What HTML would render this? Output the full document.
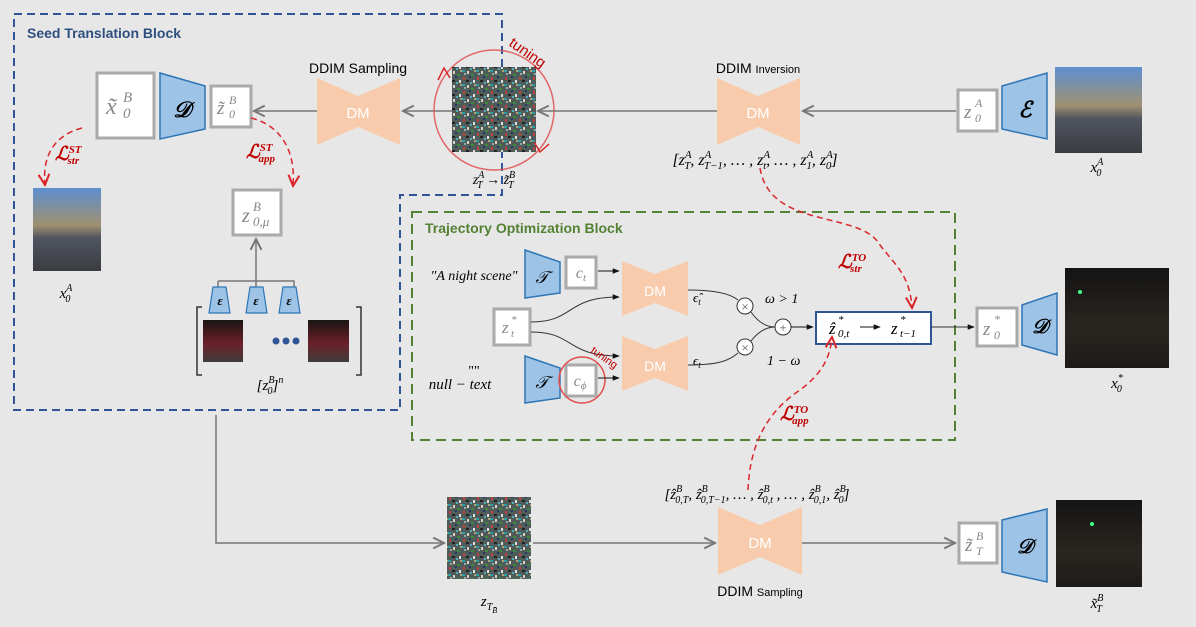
<!DOCTYPE html>
<html><head><meta charset="utf-8"><style>
html,body{margin:0;padding:0;background:#e7e7e7}
svg{display:block}
text{font-family:"Liberation Serif",serif}
.s{font-family:"Liberation Sans",sans-serif}
.m{font-style:italic}
</style></head><body>
<svg width="1196" height="627" viewBox="0 0 1196 627" xmlns="http://www.w3.org/2000/svg">
<defs>
<marker id="ag" viewBox="0 0 10 10" refX="9" refY="5" markerWidth="9" markerHeight="9" orient="auto"><path d="M1 1L9 5L1 9" fill="none" stroke="#777" stroke-width="1.5"/></marker>
<marker id="ak" viewBox="0 0 10 10" refX="9" refY="5" markerWidth="7" markerHeight="7" orient="auto"><path d="M0 1L10 5L0 9Z" fill="#111"/></marker>
<marker id="ar" viewBox="0 0 10 10" refX="9" refY="5" markerWidth="9" markerHeight="9" orient="auto"><path d="M1 1L9 5L1 9" fill="none" stroke="#d9262b" stroke-width="1.5"/></marker>
<pattern id="noise" width="14" height="14" patternUnits="userSpaceOnUse">
<rect width="14" height="14" fill="#4f5c5a"/>
<rect x="0" y="0" width="3" height="2" fill="#2ba0a8"/><rect x="5" y="1" width="2" height="3" fill="#d8d0c0"/>
<rect x="9" y="4" width="3" height="2" fill="#3a8a3a"/><rect x="1" y="7" width="2" height="3" fill="#c04040"/>
<rect x="4" y="10" width="3" height="2" fill="#222"/><rect x="11" y="10" width="2" height="3" fill="#e0e0e0"/>
<rect x="7" y="6" width="2" height="2" fill="#1f3a6a"/><rect x="2" y="3" width="2" height="2" fill="#9aa"/>
<rect x="12" y="0" width="2" height="2" fill="#b0a070"/><rect x="8" y="12" width="2" height="2" fill="#5ab"/>
</pattern>
<linearGradient id="day" x1="0" y1="0" x2="0" y2="1"><stop offset="0" stop-color="#5d8fd0"/><stop offset="0.45" stop-color="#a09070"/><stop offset="0.6" stop-color="#505560"/><stop offset="1" stop-color="#3a3c40"/></linearGradient>
<linearGradient id="night" x1="0" y1="0" x2="0" y2="1"><stop offset="0" stop-color="#141414"/><stop offset="0.6" stop-color="#2a2520"/><stop offset="1" stop-color="#1d1b19"/></linearGradient>
<linearGradient id="nred" x1="0" y1="0" x2="0" y2="1"><stop offset="0" stop-color="#1a1515"/><stop offset="0.55" stop-color="#6a2028"/><stop offset="1" stop-color="#403c3c"/></linearGradient>
</defs>

<path d="M14 14H502V195H400V410H14Z" fill="none" stroke="#2f5597" stroke-width="2" stroke-dasharray="8 5"/>
<text x="27" y="38" class="s" font-size="14" font-weight="bold" fill="#2f4f7f">Seed Translation Block</text>

<rect x="412" y="212" width="543" height="228" fill="none" stroke="#548235" stroke-width="2" stroke-dasharray="10 6"/>
<text x="425" y="233" class="s" font-size="14" font-weight="bold" fill="#548235">Trajectory Optimization Block</text>

<!-- top row -->
<rect x="97" y="73" width="57" height="65" fill="#fff" stroke="#aaa" stroke-width="3"/>
<g fill="#888" class="m"><text x="106" y="114" font-size="24" class="m">x̃</text><text x="123" y="102" font-size="15" class="m">B</text><text x="123" y="118" font-size="15" class="m">0</text></g>
<path d="M160 73L205 86V129L160 139Z" fill="#9dc3e6" stroke="#2e75b6" stroke-width="1.5"/>
<text x="182" y="117" font-size="22" text-anchor="middle" font-weight="bold" class="m">𝒟</text>
<rect x="211" y="86" width="40" height="41" fill="#fff" stroke="#aaa" stroke-width="3"/>
<g fill="#888"><text x="217" y="114" font-size="19" class="m" fill="#888">z̃</text><text x="229" y="104" font-size="12" class="m" fill="#888">B</text><text x="229" y="118" font-size="12" class="m" fill="#888">0</text></g>
<line x1="317" y1="111" x2="254" y2="111" stroke="#777" stroke-width="1.5" marker-end="url(#ag)"/>
<path d="M317 78L358 96L400 78V145L358 127L317 145Z" fill="#f8cbad"/>
<text x="358" y="118" class="s" font-size="15" fill="#fff" text-anchor="middle">DM</text>
<text x="358" y="73" class="s" font-size="14" text-anchor="middle">DDIM Sampling</text>
<line x1="452" y1="111" x2="403" y2="111" stroke="#777" stroke-width="1.5" marker-end="url(#ag)"/>
<rect x="452" y="67" width="84" height="85" fill="url(#noise)"/>
<circle cx="494" cy="110" r="60" fill="none" stroke="#e05050" stroke-width="1.5" opacity="0.85"/>
<path d="M438 80L444 68L450 78" fill="none" stroke="#d9262b" stroke-width="1.5"/>
<path d="M534 142L540 152L549 144" fill="none" stroke="#d9262b" stroke-width="1.5"/>
<text x="508" y="45" class="s" font-size="15" fill="#c00000" transform="rotate(35 508 45)">tuning</text>
<text x="494" y="184" font-size="14" text-anchor="middle" class="m">z<tspan font-size="10" dy="-6">A</tspan><tspan font-size="10" dx="-7" dy="10">T</tspan><tspan dy="-4"> → z̃</tspan><tspan font-size="10" dy="-6">B</tspan><tspan font-size="10" dx="-7" dy="10">T</tspan></text>

<line x1="717" y1="111" x2="538" y2="111" stroke="#777" stroke-width="1.5" marker-end="url(#ag)"/>
<path d="M717 78L758 96L800 78V145L758 127L717 145Z" fill="#f8cbad"/>
<text x="758" y="118" class="s" font-size="15" fill="#fff" text-anchor="middle">DM</text>
<text x="758" y="73" class="s" font-size="14" text-anchor="middle">DDIM <tspan font-size="11">Inversion</tspan></text>
<line x1="956" y1="111" x2="803" y2="111" stroke="#777" stroke-width="1.5" marker-end="url(#ag)"/>
<rect x="958" y="90" width="39" height="41" fill="#fff" stroke="#aaa" stroke-width="3"/>
<g fill="#888"><text x="964" y="118" font-size="19" class="m" fill="#888">z</text><text x="975" y="107" font-size="12" class="m" fill="#888">A</text><text x="975" y="122" font-size="12" class="m" fill="#888">0</text></g>
<path d="M1002 86L1047 73V139L1002 129Z" fill="#9dc3e6" stroke="#2e75b6" stroke-width="1.5"/>
<text x="1025" y="117" font-size="22" text-anchor="middle" font-weight="bold" class="m">ℰ</text>
<rect x="1055" y="67" width="87" height="86" fill="url(#day)"/>
<text x="1097" y="172" font-size="15" text-anchor="middle" class="m">x<tspan font-size="10" dy="-7">A</tspan><tspan font-size="10" dx="-7" dy="11">0</tspan></text>
<text x="755" y="165" font-size="16" text-anchor="middle" class="m">[z<tspan font-size="11" dy="-7">A</tspan><tspan font-size="11" dx="-7" dy="11">T</tspan><tspan dy="-4">, z</tspan><tspan font-size="11" dy="-7">A</tspan><tspan font-size="11" dx="-7" dy="11">T−1</tspan><tspan dy="-4">, … , z</tspan><tspan font-size="11" dy="-7">A</tspan><tspan font-size="11" dx="-7" dy="11">t</tspan><tspan dy="-4">, … , z</tspan><tspan font-size="11" dy="-7">A</tspan><tspan font-size="11" dx="-7" dy="11">1</tspan><tspan dy="-4">, z</tspan><tspan font-size="11" dy="-7">A</tspan><tspan font-size="11" dx="-7" dy="11">0</tspan><tspan dy="-4">]</tspan></text>

<!-- seed left -->
<path d="M82 128C55 135 42 155 45 185" fill="none" stroke="#d9262b" stroke-width="1.5" stroke-dasharray="6 4" marker-end="url(#ar)"/>
<text x="55" y="160" font-size="19" fill="#c00000" font-weight="bold" class="m">ℒ<tspan font-size="11" dy="-7">ST</tspan><tspan font-size="11" dx="-13" dy="11">str</tspan></text>
<path d="M251 118C280 125 296 150 293 186" fill="none" stroke="#d9262b" stroke-width="1.5" stroke-dasharray="6 4" marker-end="url(#ar)"/>
<text x="246" y="158" font-size="19" fill="#c00000" font-weight="bold" class="m">ℒ<tspan font-size="11" dy="-7">ST</tspan><tspan font-size="11" dx="-13" dy="11">app</tspan></text>
<rect x="33" y="188" width="68" height="83" fill="url(#day)"/>
<text x="66" y="298" font-size="15" text-anchor="middle" class="m">x<tspan font-size="10" dy="-7">A</tspan><tspan font-size="10" dx="-7" dy="11">0</tspan></text>
<rect x="233" y="190" width="48" height="45" fill="#fff" stroke="#aaa" stroke-width="3"/>
<text x="242" y="222" font-size="20" class="m" fill="#888">z</text><text x="253" y="211" font-size="13" class="m" fill="#888">B</text><text x="253" y="226" font-size="13" class="m" fill="#888">0,μ</text>
<line x1="256" y1="281" x2="256" y2="239" stroke="#777" stroke-width="1.5" marker-end="url(#ag)"/>
<path d="M218 281H294V287M218 281V287M256 281V287" fill="none" stroke="#777" stroke-width="1.5"/>
<g fill="#9dc3e6" stroke="#2e75b6" stroke-width="1.2">
<path d="M213 287H226L230 313H209Z"/><path d="M250 287H263L267 313H246Z"/><path d="M283 287H296L300 313H279Z"/></g>
<g font-size="13" text-anchor="middle" class="m" font-weight="bold"><text x="220" y="305">ε</text><text x="256" y="305">ε</text><text x="289" y="305">ε</text></g>
<path d="M202 307H197V375H202M356 307H361V375H356" fill="none" stroke="#333" stroke-width="1.5"/>
<rect x="203" y="320" width="40" height="42" fill="url(#nred)"/>
<rect x="308" y="320" width="41" height="42" fill="url(#nred)"/>
<g fill="#2f5597"><circle cx="286" cy="341" r="3.5"/><circle cx="296" cy="341" r="3.5"/><circle cx="276" cy="341" r="3.5"/></g>
<text x="270" y="390" font-size="15" text-anchor="middle" class="m">[z<tspan font-size="10" dy="-7">B</tspan><tspan font-size="10" dx="-7" dy="11">0</tspan><tspan dy="-4">]</tspan><tspan font-size="10" dy="-7">n</tspan></text>

<!-- TO block -->
<text x="474" y="280" font-size="14" text-anchor="middle" class="m">"A night scene"</text>
<path d="M525 250L560 262V293L525 298Z" fill="#9dc3e6" stroke="#2e75b6" stroke-width="1.5"/>
<text x="542" y="283" font-size="17" text-anchor="middle" class="m">𝒯</text>
<rect x="566" y="257" width="30" height="31" fill="#fff" stroke="#aaa" stroke-width="3"/>
<text x="581" y="278" font-size="16" text-anchor="middle" fill="#888" class="m">c<tspan font-size="11" dy="3">t</tspan></text>
<line x1="598" y1="271" x2="619" y2="271" stroke="#111" stroke-width="1" marker-end="url(#ak)"/>
<path d="M622 261L655 274L688 261V316L655 303L622 316Z" fill="#f8cbad"/>
<text x="655" y="296" class="s" font-size="14" fill="#fff" text-anchor="middle">DM</text>
<rect x="494" y="309" width="36" height="36" fill="#fff" stroke="#aaa" stroke-width="3"/>
<text x="502" y="333" font-size="17" class="m" fill="#888">z</text><text x="511" y="323" font-size="11" class="m" fill="#888">*</text><text x="511" y="337" font-size="11" class="m" fill="#888">t</text>
<path d="M531 322C575 322 565 297 619 297" fill="none" stroke="#333" stroke-width="1" marker-end="url(#ak)"/>
<path d="M531 332C575 332 565 356 619 356" fill="none" stroke="#333" stroke-width="1" marker-end="url(#ak)"/>
<text x="474" y="375" font-size="14" text-anchor="middle">""</text>
<text x="460" y="389" font-size="15" text-anchor="middle" class="m">null − text</text>
<path d="M525 356L560 368V398L525 403Z" fill="#9dc3e6" stroke="#2e75b6" stroke-width="1.5"/>
<text x="542" y="388" font-size="17" text-anchor="middle" class="m">𝒯</text>
<rect x="566" y="365" width="30" height="31" fill="#fff" stroke="#aaa" stroke-width="3"/>
<text x="580" y="386" font-size="16" text-anchor="middle" fill="#888" class="m">c<tspan font-size="11" dy="3">ϕ</tspan></text>
<circle cx="582" cy="380" r="23" fill="none" stroke="#e05050" stroke-width="1.5"/>
<text x="590" y="352" class="s" font-size="11" fill="#c00000" transform="rotate(35 590 352)">tuning</text>
<line x1="598" y1="378" x2="619" y2="378" stroke="#111" stroke-width="1" marker-end="url(#ak)"/>
<path d="M622 336L655 349L688 336V391L655 378L622 391Z" fill="#f8cbad"/>
<text x="655" y="371" class="s" font-size="14" fill="#fff" text-anchor="middle">DM</text>
<text x="693" y="302" font-size="13" class="m">ϵ̂<tspan font-size="9" dy="3">t</tspan></text>
<text x="693" y="365" font-size="13" class="m">ϵ<tspan font-size="9" dy="3">t</tspan></text>
<path d="M688 290C720 290 732 295 738 300M751 312C758 322 766 327 775 327M688 365C720 365 730 360 738 353M751 341C758 332 766 327 775 327" fill="none" stroke="#333" stroke-width="1"/>
<g fill="#fff" stroke="#333" stroke-width="1"><circle cx="745" cy="306" r="8"/><circle cx="745" cy="347" r="8"/><circle cx="783" cy="327" r="8"/></g>
<g font-size="13" text-anchor="middle" fill="#555"><text x="745" y="311">×</text><text x="745" y="352">×</text><text x="783" y="332">+</text></g>
<text x="765" y="303" font-size="14" class="m">ω &gt; 1</text>
<text x="767" y="365" font-size="14" class="m">1 − ω</text>
<line x1="791" y1="327" x2="813" y2="327" stroke="#111" stroke-width="1" marker-end="url(#ak)"/>
<rect x="816" y="312" width="115" height="32" fill="#fff" stroke="#2f5597" stroke-width="2"/>
<text x="829" y="334" font-size="17" class="m">ẑ</text><text x="838" y="323" font-size="11" class="m">*</text><text x="838" y="337" font-size="11" class="m">0,t</text>
<line x1="860" y1="327" x2="880" y2="327" stroke="#111" stroke-width="1" marker-end="url(#ak)"/>
<text x="891" y="334" font-size="17" class="m">z</text><text x="900" y="323" font-size="11" class="m">*</text><text x="900" y="337" font-size="11" class="m">t−1</text>
<line x1="931" y1="327" x2="974" y2="327" stroke="#333" stroke-width="1" marker-end="url(#ak)"/>
<rect x="977" y="308" width="40" height="38" fill="#fff" stroke="#aaa" stroke-width="3"/>
<text x="983" y="335" font-size="19" class="m" fill="#888">z</text><text x="994" y="323" font-size="12" class="m" fill="#888">*</text><text x="994" y="339" font-size="12" class="m" fill="#888">0</text>
<path d="M1022 305L1057 293V355L1022 345Z" fill="#9dc3e6" stroke="#2e75b6" stroke-width="1.5"/>
<text x="1040" y="333" font-size="20" text-anchor="middle" font-weight="bold" class="m">𝒟</text>
<rect x="1065" y="268" width="104" height="100" fill="url(#night)"/>
<circle cx="1080" cy="292" r="2" fill="#4f8"/>
<text x="1117" y="388" font-size="15" text-anchor="middle" class="m">x<tspan font-size="10" dy="-7">*</tspan><tspan font-size="10" dx="-6" dy="11">0</tspan></text>

<path d="M760 168C770 230 860 210 880 245C895 265 910 275 912 308" fill="none" stroke="#d9262b" stroke-width="1.5" stroke-dasharray="6 4" marker-end="url(#ar)"/>
<text x="838" y="268" font-size="19" fill="#c00000" font-weight="bold" class="m">ℒ<tspan font-size="11" dy="-7">TO</tspan><tspan font-size="11" dx="-16" dy="11">str</tspan></text>
<path d="M748 490C750 440 770 410 800 390C820 375 830 360 832 337" fill="none" stroke="#d9262b" stroke-width="1.5" stroke-dasharray="6 4" marker-end="url(#ar)"/>
<text x="780" y="420" font-size="19" fill="#c00000" font-weight="bold" class="m">ℒ<tspan font-size="11" dy="-7">TO</tspan><tspan font-size="11" dx="-16" dy="11">app</tspan></text>

<!-- bottom -->
<path d="M216 415V543H444" fill="none" stroke="#777" stroke-width="1.5" marker-end="url(#ag)"/>
<rect x="447" y="497" width="84" height="82" fill="url(#noise)"/>
<text x="489" y="606" font-size="15" text-anchor="middle" class="m">z<tspan font-size="10" dy="4">T</tspan><tspan font-size="8" dy="3">B̄</tspan></text>
<line x1="533" y1="543" x2="715" y2="543" stroke="#777" stroke-width="1.5" marker-end="url(#ag)"/>
<path d="M718 507L760 525L802 507V575L760 557L718 575Z" fill="#f8cbad"/>
<text x="760" y="548" class="s" font-size="15" fill="#fff" text-anchor="middle">DM</text>
<text x="760" y="596" class="s" font-size="14" text-anchor="middle">DDIM <tspan font-size="11">Sampling</tspan></text>
<text x="757" y="499" font-size="15" text-anchor="middle" class="m">[ẑ<tspan font-size="10" dy="-7">B</tspan><tspan font-size="10" dx="-7" dy="11">0,T</tspan><tspan dy="-4">, ẑ</tspan><tspan font-size="10" dy="-7">B</tspan><tspan font-size="10" dx="-7" dy="11">0,T−1</tspan><tspan dy="-4">, … , ẑ</tspan><tspan font-size="10" dy="-7">B</tspan><tspan font-size="10" dx="-7" dy="11">0,t</tspan><tspan dy="-4"> , … , ẑ</tspan><tspan font-size="10" dy="-7">B</tspan><tspan font-size="10" dx="-7" dy="11">0,1</tspan><tspan dy="-4">, ẑ</tspan><tspan font-size="10" dy="-7">B</tspan><tspan font-size="10" dx="-7" dy="11">0</tspan><tspan dy="-4">]</tspan></text>
<line x1="802" y1="543" x2="955" y2="543" stroke="#777" stroke-width="1.5" marker-end="url(#ag)"/>
<rect x="959" y="523" width="38" height="40" fill="#fff" stroke="#aaa" stroke-width="3"/>
<text x="965" y="551" font-size="19" class="m" fill="#888">z̃</text><text x="976" y="540" font-size="12" class="m" fill="#888">B</text><text x="976" y="555" font-size="12" class="m" fill="#888">T</text>
<path d="M1002 520L1047 509V582L1002 572Z" fill="#9dc3e6" stroke="#2e75b6" stroke-width="1.5"/>
<text x="1025" y="553" font-size="20" text-anchor="middle" font-weight="bold" class="m">𝒟</text>
<rect x="1056" y="500" width="86" height="87" fill="url(#night)"/>
<circle cx="1092" cy="524" r="2" fill="#4f8"/>
<text x="1097" y="608" font-size="15" text-anchor="middle" class="m">x̃<tspan font-size="10" dy="-7">B</tspan><tspan font-size="10" dx="-7" dy="11">T</tspan></text>
</svg>
</body></html>
